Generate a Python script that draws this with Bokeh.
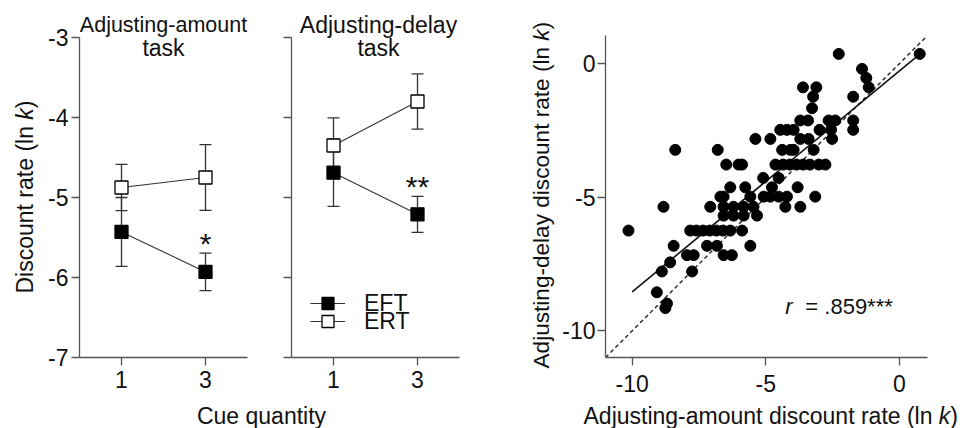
import math
from bokeh.plotting import figure
from bokeh.models import (Label, Whisker, TeeHead, ColumnDataSource, Legend,
                          LegendItem, Range1d, FixedTicker)
from bokeh.layouts import row, column
from bokeh.embed import file_html
from bokeh.resources import INLINE

FONT = "Liberation Sans"
FS = "23px"
INK = "#111111"
AX = "#555555"
EM = 23.0
BL = 6  # baseline correction (px) for labels

# ---------------- data ----------------
cue = [1, 3]
y_ticks_left = [-7, -6, -5, -4, -3]

amt_eft = [-5.43, -5.93]
amt_eft_err = [0.43, 0.235]
amt_ert = [-4.875, -4.75]
amt_ert_err = [0.29, 0.41]
amt_sig = ["", "*"]

del_eft = [-4.69, -5.21]
del_eft_err = [0.42, 0.225]
del_ert = [-4.35, -3.80]
del_ert_err = [0.345, 0.345]
del_sig = ["", "**"]

amount_lnk = [
    -2.27, 0.76, -1.40, -1.24, -1.15, -3.61, -3.11, -3.23, -1.73, -3.27,
    -3.71, -3.42, -2.65, -2.40, -1.73,
    -4.46, -4.21, -3.96, -2.99, -2.56, -1.73,
    -5.39, -4.83, -3.71, -3.40, -2.52,
    -8.39, -6.80, -4.39, -4.08, -3.96, -3.21,
    -6.48, -6.02, -5.89, -4.64, -4.35, -4.10, -3.85, -3.60, -3.35, -3.02, -2.77,
    -5.10, -4.52,
    -6.33, -5.77, -4.77, -3.81,
    -6.70, -6.58, -5.58, -5.08, -4.83, -4.52, -4.21, -3.15,
    -8.83, -7.08, -6.58, -6.21, -5.83, -5.46, -4.27, -3.71,
    -6.58, -6.21, -5.83, -5.33,
    -10.14, -7.83, -7.60, -7.35, -7.10, -6.85, -6.60, -6.33, -5.89,
    -8.45, -7.20, -6.83, -5.58,
    -7.95, -7.70, -6.58, -6.27,
    -8.58,
    -8.89, -7.76,
    -9.08,
    -8.70, -8.76,
]
delay_lnk = [
    0.36, 0.36, -0.20, -0.54, -0.89, -0.89, -0.89, -1.24, -1.24, -1.67,
    -2.13, -2.13, -2.13, -2.13, -2.13,
    -2.48, -2.48, -2.48, -2.48, -2.48, -2.48,
    -2.82, -2.82, -2.82, -2.82, -2.82,
    -3.23, -3.23, -3.23, -3.23, -3.23, -3.23,
    -3.78, -3.78, -3.78, -3.78, -3.78, -3.78, -3.78, -3.78, -3.78, -3.78, -3.78,
    -4.28, -4.28,
    -4.63, -4.63, -4.63, -4.63,
    -4.98, -4.98, -4.98, -4.98, -4.98, -4.98, -4.98, -4.98,
    -5.36, -5.36, -5.36, -5.36, -5.36, -5.36, -5.36, -5.36,
    -5.69, -5.69, -5.69, -5.69,
    -6.25, -6.25, -6.25, -6.25, -6.25, -6.25, -6.25, -6.25, -6.25,
    -6.82, -6.82, -6.82, -6.82,
    -7.17, -7.17, -7.17, -7.17,
    -7.44,
    -7.78, -7.78,
    -8.56,
    -8.98, -9.15,
]
identity_x = [-11.0, 0.97]
identity_y = [-11.0, 0.97]
fit_x = [-10.0, 0.76]
fit_y = [-8.54, 0.35]
scatter_ticks = [-10, -5, 0]
r_text = "= .859***"


def lab(p, x, y, text, xo=0, yo=0, size=FS, align="left",
        baseline="alphabetic", angle=0, style="normal"):
    p.add_layout(Label(x=x, y=y, x_offset=xo, y_offset=yo, text=text,
                       text_font=FONT, text_font_size=size,
                       text_align=align, text_baseline=baseline,
                       angle=angle, text_font_style=style, text_color=INK))


def text_fig(w, h):
    p = figure(width=w, height=h, x_range=Range1d(0, w), y_range=Range1d(0, h),
               output_backend="svg", toolbar_location=None, x_axis_type=None,
               y_axis_type=None, min_border=0)
    p.grid.visible = False
    p.outline_line_color = None
    return p


def style_axes(p, tick_out=8, standoff=5):
    p.grid.visible = False
    p.outline_line_color = None
    for ax in p.axis:
        ax.axis_line_color = AX
        ax.axis_line_width = 1.3
        ax.major_tick_line_color = AX
        ax.major_tick_line_width = 1.3
        ax.minor_tick_line_color = None
        ax.major_tick_in = 0
        ax.major_tick_out = tick_out
        ax.major_label_standoff = standoff
        ax.major_label_text_font = FONT
        ax.major_label_text_font_size = FS
        ax.major_label_text_color = INK


def panel(width, left, right, eft, eft_err, ert, ert_err, sig, show_ylabels):
    top_px = 5
    p = figure(width=width, height=400, x_range=Range1d(0, 4),
               y_range=Range1d(-7, -3 + (37 - top_px) / 80.0), output_backend="svg",
               toolbar_location=None, min_border_left=left,
               min_border_right=right, min_border_top=top_px,
               min_border_bottom=43)
    style_axes(p, tick_out=8, standoff=5)
    p.yaxis.major_label_standoff = 3
    p.xaxis.ticker = FixedTicker(ticks=cue)
    p.yaxis.ticker = FixedTicker(ticks=y_ticks_left)
    p.yaxis.bounds = (-7, -3)
    if show_ylabels:
        p.yaxis.major_label_overrides = {v: str(v) for v in y_ticks_left}
    else:
        p.yaxis.major_label_overrides = {v: "" for v in y_ticks_left}

    for vals, errs in ((ert, ert_err), (eft, eft_err)):
        src = ColumnDataSource(dict(x=cue, lower=[v - e for v, e in zip(vals, errs)],
                                    upper=[v + e for v, e in zip(vals, errs)]))
        w = Whisker(source=src, base="x", upper="upper", lower="lower",
                    line_color="#333333", line_width=1.3, level="underlay",
                    upper_head=TeeHead(size=12, line_color="#333333", line_width=1.3),
                    lower_head=TeeHead(size=12, line_color="#333333", line_width=1.3))
        p.add_layout(w)

    l_eft = p.line(cue, eft, line_color="#333333", line_width=1.1)
    l_ert = p.line(cue, ert, line_color="#333333", line_width=1.1)
    s_eft = p.scatter(cue, eft, marker="square", size=13, fill_color="black",
                      line_color="black", line_width=1.3)
    s_ert = p.scatter(cue, ert, marker="square", size=13, fill_color="white",
                      line_color="black", line_width=1.3)

    for xv, v, e, s in zip(cue, eft, eft_err, sig):
        if s:
            lab(p, xv, v + e, s, yo=10, size="30px", align="center")
    return p, (l_eft, s_eft), (l_ert, s_ert)


# ---------------- panel 1 ----------------
p1, _, _ = panel(230, 39, 23, amt_eft, amt_eft_err, amt_ert, amt_ert_err, amt_sig, True)
lab(p1, 2, -3, "Adjusting-amount", yo=7 + BL, align="center", size="21.5px")
lab(p1, 2, -3, "task", yo=-16 + BL, align="center")

# y label of panel 1
ylab1 = text_fig(40, 428)
lab(ylab1, 30 - BL, 135, "Discount rate (ln", angle=math.pi / 2)
lab(ylab1, 30 - BL, 135 + 7.558 * EM, "k", angle=math.pi / 2, style="italic")
lab(ylab1, 30 - BL, 135 + 8.058 * EM, ")", angle=math.pi / 2)

# ---------------- panel 2 ----------------
p2, eft_r, ert_r = panel(250, 21, 61, del_eft, del_eft_err, del_ert, del_ert_err,
                         del_sig, False)
lab(p2, 2, -3, "Adjusting-delay", xo=3, yo=7 + BL, align="center")
lab(p2, 2, -3, "task", xo=3, yo=-16 + BL, align="center")
for name, rends, loc in (("EFT", eft_r, (19, 39)), ("ERT", ert_r, (19, 21))):
    leg = Legend(items=[LegendItem(label=name, renderers=list(rends))],
                 location=loc, glyph_width=35, glyph_height=30,
                 label_standoff=19, padding=0, margin=0, spacing=0,
                 border_line_color=None, background_fill_alpha=0,
                 label_text_font=FONT, label_text_font_size=FS,
                 label_text_color=INK)
    p2.add_layout(leg)

# shared x label
cuefig = text_fig(480, 28)
lab(cuefig, 221, 7 + BL, "Cue quantity", align="center")

# ---------------- scatter ----------------
p3 = figure(width=403, height=400, x_range=Range1d(-11, 1.05),
            y_range=Range1d(-11, 1.05), output_backend="svg",
            toolbar_location=None, min_border_left=47, min_border_right=34,
            min_border_top=35, min_border_bottom=43)
style_axes(p3, tick_out=8, standoff=2)
p3.xaxis.major_label_standoff = 9
p3.xaxis.ticker = FixedTicker(ticks=scatter_ticks)
p3.yaxis.ticker = FixedTicker(ticks=scatter_ticks)
p3.xaxis.major_label_overrides = {v: str(v) for v in scatter_ticks}
p3.yaxis.major_label_overrides = {v: str(v) for v in scatter_ticks}
p3.line(identity_x, identity_y, line_color="#222222", line_width=1.4, line_dash="4 3")
p3.line(fit_x, fit_y, line_color="#111111", line_width=1.6)
p3.scatter(amount_lnk, delay_lnk, size=11, fill_color="black", line_color="black")
lab(p3, -4.27, -9.32, "r", yo=BL, size="22px", style="italic")
lab(p3, -4.27, -9.32, r_text, xo=20, yo=BL, size="22px")

# y label of scatter (full-height strip)
EM3 = 22.6
ylab3 = text_fig(38, 428)
lab(ylab3, 27 - BL, 60, "Adjusting-delay discount rate (ln", angle=math.pi / 2, size="22.6px")
lab(ylab3, 27 - BL, 60 + 14.506 * EM3, "k", angle=math.pi / 2, style="italic", size="22.6px")
lab(ylab3, 27 - BL, 60 + 15.006 * EM3, ")", angle=math.pi / 2, size="22.6px")

# x label of scatter
xlab3 = text_fig(403, 28)
lab(xlab3, 25, 7 + BL, "Adjusting-amount discount rate (ln")
lab(xlab3, 25 + 15.451 * EM, 7 + BL, "k", style="italic")
lab(xlab3, 25 + 15.951 * EM, 7 + BL, ")")

layout = row(ylab1,
             column(row(p1, p2), cuefig),
             ylab3,
             column(row(p3), row(xlab3)))
open("out.html", "w").write(file_html(layout, INLINE))
